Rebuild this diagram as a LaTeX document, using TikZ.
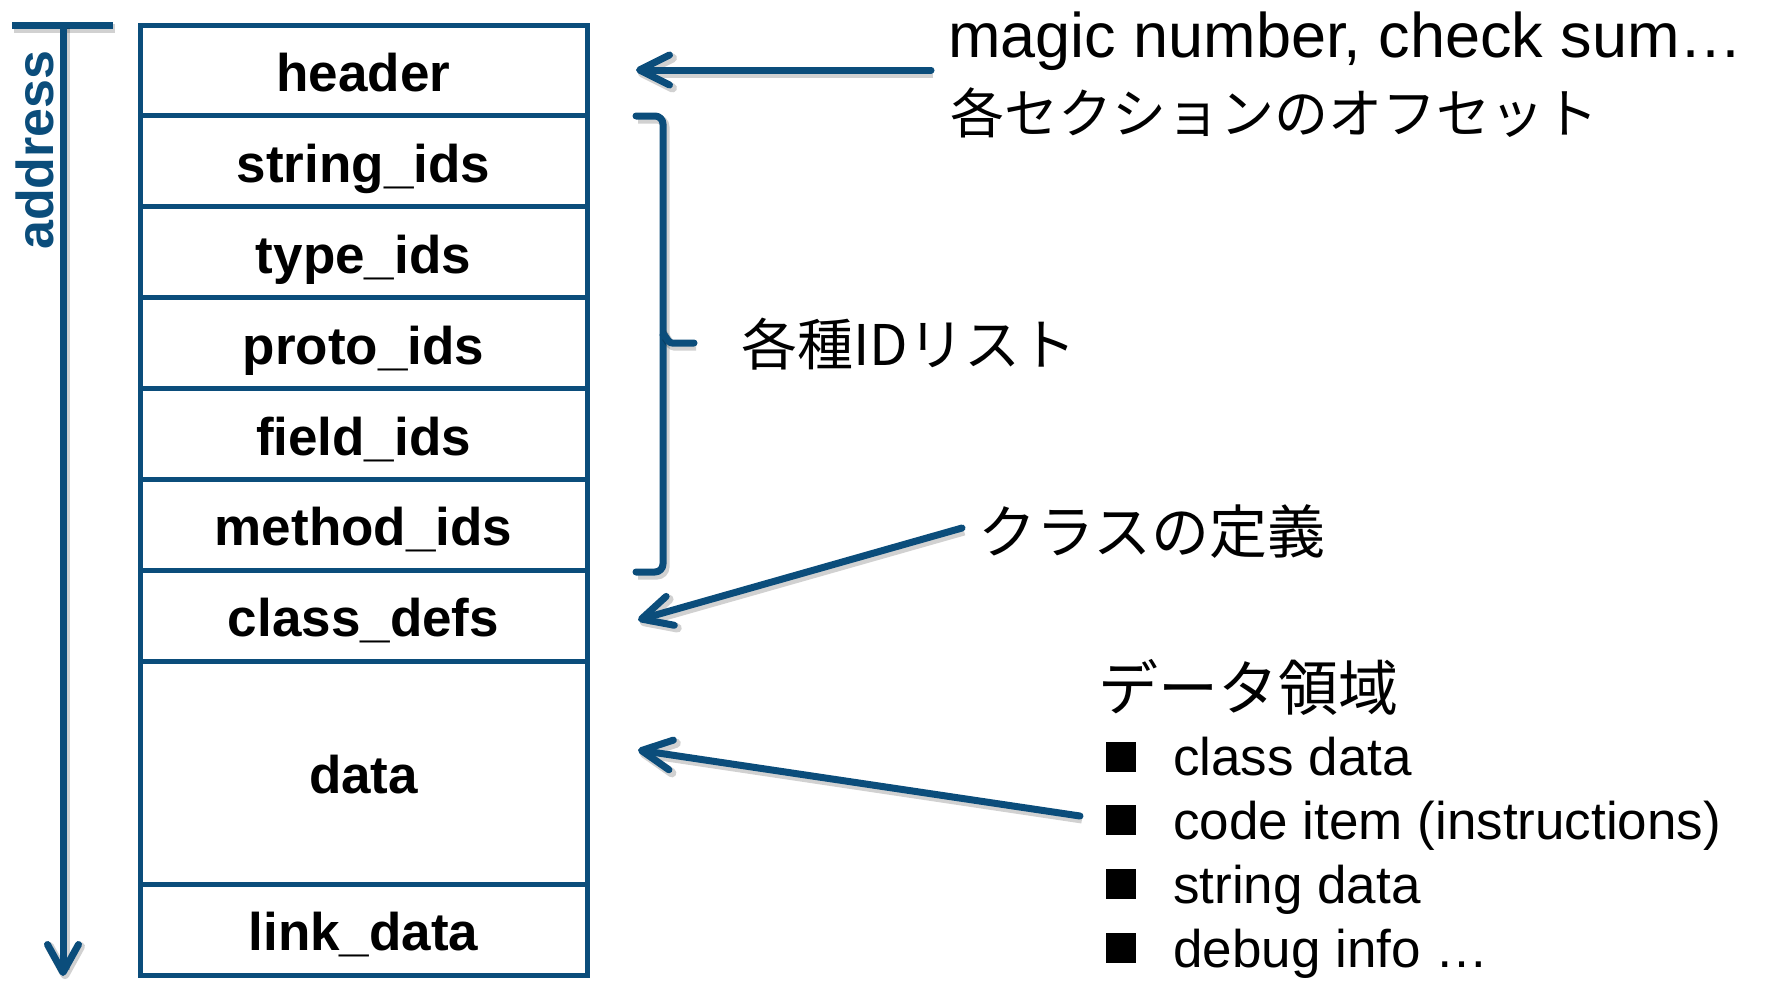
\documentclass[tikz,border=0pt]{standalone}
\usepackage{fontspec}
\setmainfont{Liberation Sans}
\newfontfamily\jp{Noto Sans CJK JP}
\usetikzlibrary{arrows.meta}
\definecolor{dexblue}{HTML}{0B4D7B}
\tikzset{
  cell/.style={draw=dexblue, line width=5pt, minimum width=447pt, inner sep=0pt,
    font=\fontsize{53}{60}\selectfont\bfseries, text height=42pt, text depth=0pt},
  softshadow/.style={preaction={draw=black, opacity=0.18, line width=9pt,
    transform canvas={xshift=2pt,yshift=-3pt}}},
  pointer/.style={draw=dexblue, line width=7pt, line cap=round, line join=round,
    -{Straight Barb[length=30pt,width=30pt,round]}, softshadow},
  bracketline/.style={draw=dexblue, line width=7pt, line cap=round, line join=round, softshadow},
  txt/.style={inner sep=0pt, anchor=base west},
  bullet/.style={fill=black, minimum size=30pt, inner sep=0pt},
}
\begin{document}
\begin{tikzpicture}[x=1pt,y=-1pt]
\useasboundingbox (0,0) rectangle (1769,980);

% memory layout of the file
\node[cell, minimum height=90.9pt] (header)  at (363.5,70.45)  {header};
\node[cell, minimum height=90.9pt] (strids)  at (363.5,161.35) {string\_ids};
\node[cell, minimum height=90.9pt] (typeids) at (363.5,252.25) {type\_ids};
\node[cell, minimum height=90.9pt] (protoids) at (363.5,343.15) {proto\_ids};
\node[cell, minimum height=90.9pt] (fieldids) at (363.5,434.05) {field\_ids};
\node[cell, minimum height=90.9pt] (methodids) at (363.5,524.95) {method\_ids};
\node[cell, minimum height=90.9pt] (classdefs) at (363.5,615.85) {class\_defs};
\node[cell, minimum height=222.7pt] (data) at (363.5,772.65) {data};
\node[cell, minimum height=91pt] (linkdata) at (363.5,929.5) {link\_data};

% address axis
\coordinate (axtop) at (63,25);
\coordinate (axbot) at (63,976);
\coordinate (barl) at (12,25);
\coordinate (barr) at (113,25);
\draw[bracketline, line cap=butt] (barl) -- (barr);
\draw[pointer, line cap=butt, -{Straight Barb[length=28pt,width=31pt,round]}] (axtop) -- (axbot);
\node[rotate=90, text=dexblue, font=\fontsize{52}{60}\selectfont\bfseries,
  inner sep=0pt, text height=37pt, text depth=0pt] (addr) at (35,150) {address};

% header annotation
\node[txt, font=\fontsize{63}{70}\selectfont] (magic) at (948,57) {magic number, check sum…};
\node[txt, font=\jp\fontsize{54}{60}\selectfont] (offsets) at (950,133) {各セクションのオフセット};
\coordinate (hdrfrom) at (931,70);
\coordinate (hdrto) at (636,70);
\draw[pointer] (hdrfrom) -- (hdrto);

% bracket over the id lists
\coordinate (brtop) at (636,116);
\coordinate (brbot) at (636,572);
\coordinate (brmid) at (694,343);
\draw[bracketline] (brtop) -- (655,116) to[out=0,in=90] (663,124) -- (663,564)
  to[out=-90,in=0] (655,572) -- (brbot);
\draw[bracketline] (663,335) to[out=90,in=180] (672,343) -- (brmid);
\node[txt, font=\jp\fontsize{56}{60}\selectfont] (idlists) at (741,365) {各種IDリスト};

% class definitions
\node[txt, font=\jp\fontsize{58}{60}\selectfont] (classes) at (978,553) {クラスの定義};
\coordinate (clsfrom) at (962,528);
\coordinate (clsto) at (638,620);
\draw[pointer] (clsfrom) -- (clsto);

% data area
\node[txt, font=\jp\fontsize{60}{60}\selectfont] (dataarea) at (1098,710) {データ領域};
\coordinate (datfrom) at (1080,816);
\coordinate (datto) at (638,750);
\draw[pointer] (datfrom) -- (datto);

\node[bullet] (b1) at (1121,757) {};
\node[bullet] (b2) at (1121,820) {};
\node[bullet] (b3) at (1121,884) {};
\node[bullet] (b4) at (1121,948) {};
\node[txt, font=\fontsize{53}{60}\selectfont] (i1) at (1173,775) {class data};
\node[txt, font=\fontsize{53}{60}\selectfont] (i2) at (1173,839) {code item (instructions)};
\node[txt, font=\fontsize{53}{60}\selectfont] (i3) at (1173,903) {string data};
\node[txt, font=\fontsize{53}{60}\selectfont] (i4) at (1173,967) {debug info …};
\end{tikzpicture}
\end{document}
